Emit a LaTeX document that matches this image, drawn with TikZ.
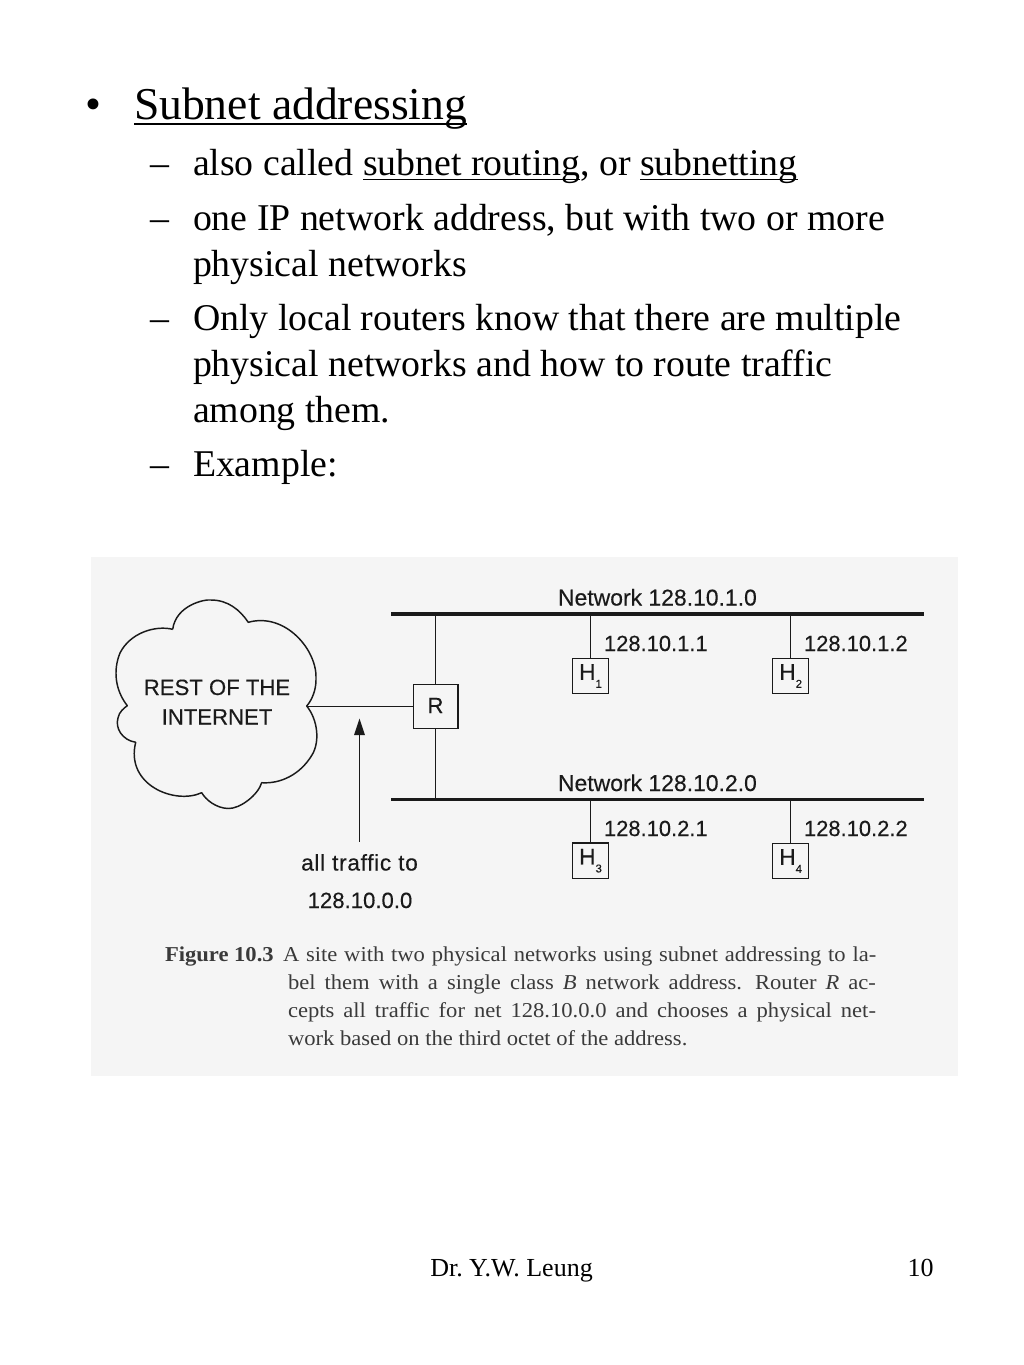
\documentclass[tikz,border=0pt]{standalone}
\usepackage{fontspec}
\setmainfont{Liberation Serif}
\newfontfamily\helv[FakeBold=0.3]{Liberation Sans}
\newfontfamily\helvs[FakeBold=0.3,LetterSpace=3]{Liberation Sans}
\newfontfamily\capfont[FakeStretch=1.065]{Liberation Serif}
\definecolor{panel}{HTML}{F5F5F5}
\definecolor{ink}{HTML}{1A1A1A}
\definecolor{capink}{HTML}{3A3A3A}
\newsavebox\ulbox
\newcommand\myul[1]{\sbox\ulbox{#1}\rlap{\rule[-0.13em]{\wd\ulbox}{0.05em}}#1}
\newcommand\fs[1]{\fontsize{#1pt}{#1pt}\selectfont}
\newcommand\hsub[1]{H\raisebox{-0.35em}{\fontsize{8.5pt}{8.5pt}\selectfont #1}}
\tikzset{
  x=0.75pt,y=-0.75pt,
  every node/.style={inner sep=0pt,outer sep=0pt},
  slideh/.style={anchor=base west,font=\fs{34.2}},
  slides/.style={anchor=base west,font=\fs{28.35}},
  foot/.style={anchor=base,font=\fs{19.5}},
  figtext/.style={anchor=base,font=\helv\fs{16.6},text=ink},
  addr/.style={anchor=base west,font=\helv\fs{16.45},text=ink},
  netlabel/.style={anchor=base west,font=\helv\fs{17.2},text=ink},
  trafficlabel/.style={anchor=base,font=\helvs\fs{17},text=ink},
  captext/.style={anchor=base west,font=\capfont\fs{15.9},text=capink},
  bus/.style={draw=ink,line width=2.3pt},
  wire/.style={draw=ink,line width=1pt},
  hostbox/.style={draw=ink,line width=1pt,minimum width=27pt,minimum height=26.5pt,font=\helv\fs{17},text=ink},
  routerbox/.style={draw=ink,line width=1pt,minimum width=33.5pt,minimum height=33pt,font=\helv\fs{16.5},text=ink},
}
\begin{document}
\frenchspacing
\begin{tikzpicture}
\useasboundingbox (0,0) rectangle (1024,1365);
\fill[white] (0,0) rectangle (1024,1365);
\fill[panel] (91,557) rectangle (958,1076);

% slide text
\node[slideh] (b1) at (85,119) {•};
\node[slideh] (t1) at (134,119) {\myul{Subnet addressing}};
\node[slides] (d1) at (150,175.5) {–};
\node[slides] (t2) at (193,175.5) {also called \myul{subnet routing}, or \myul{subnetting}};
\node[slides] (d2) at (150,230) {–};
\node[slides] (t3) at (193,230) {one IP network address, but with two or more};
\node[slides] (t3b) at (193,276) {physical networks};
\node[slides] (d3) at (150,330) {–};
\node[slides] (t4) at (193,330) {Only local routers know that there are multiple};
\node[slides] (t4b) at (193,376) {physical networks and how to route traffic};
\node[slides] (t4c) at (193,422) {among them.};
\node[slides] (d4) at (150,476) {–};
\node[slides] (t5) at (193,476) {Example:};

% cloud
\draw[wire,line width=1.1pt,line join=round]
  (172.7,629.3) .. controls (176,605) and (205,599) .. (211,600)
  .. controls (228,600) and (240,610) .. (248.3,622.3)
  .. controls (285,612) and (318,650) .. (316,680)
  .. controls (316,690) and (312,700) .. (306.7,706)
  .. controls (318,720) and (320,742) .. (312,755)
  .. controls (300,775) and (280,784) .. (261.7,782.7)
  .. controls (258,795) and (240,809) .. (228,808.5)
  .. controls (216,808) and (206,800) .. (201.7,792.7)
  .. controls (175,805) and (125,785) .. (135.7,742.3)
  .. controls (122,740) and (115,728) .. (118,718)
  .. controls (119,712) and (124,708) .. (127.3,705.7)
  .. controls (115,690) and (113,670) .. (120,653)
  .. controls (130,633) and (155,625) .. (172.7,629.3);
\coordinate (cloudport) at (306.7,706.5);
\node[figtext] (c1) at (217,695) {REST OF THE};
\node[figtext] (c2) at (217,724.5) {INTERNET};

% router and buses
\coordinate (n1l) at (391,614);
\coordinate (n1r) at (924,614);
\coordinate (n2l) at (391,799.5);
\coordinate (n2r) at (924,799.5);
\draw[bus] (n1l) -- (n1r);
\draw[bus] (n2l) -- (n2r);
\node[routerbox] (R) at (435.5,706.2) {\raisebox{1.1pt}{R}};
\coordinate (rt) at (R.north |- n1l);
\coordinate (rb) at (R.south |- n2l);
\draw[wire] (R.north) -- (rt);
\draw[wire] (R.south) -- (rb);
\draw[wire] (cloudport) -- (R.west |- cloudport);

% hosts
\node[hostbox] (H1) at (590.5,676) {\hsub{1}};
\node[hostbox] (H2) at (790.7,676) {\hsub{2}};
\node[hostbox] (H3) at (590.5,860.7) {\hsub{3}};
\node[hostbox] (H4) at (790.7,861) {\hsub{4}};
\draw[wire] (H1.north) -- (H1.north |- n1l);
\draw[wire] (H2.north) -- (H2.north |- n1l);
\draw[wire] (H3.north) -- (H3.north |- n2l);
\draw[wire] (H4.north) -- (H4.north |- n2l);

% labels
\node[netlabel] (N1) at (558,605.5) {Network 128.10.1.0};
\node[netlabel] (N2) at (558,791) {Network 128.10.2.0};
\node[addr] (a1) at (604,651) {128.10.1.1};
\node[addr] (a2) at (804,651) {128.10.1.2};
\node[addr] (a3) at (604,836) {128.10.2.1};
\node[addr] (a4) at (804,836) {128.10.2.2};

% arrow
\coordinate (arrowfoot) at (359.5,841.5);
\coordinate (arrowhead) at (359.5,718.5);
\draw[wire] (arrowfoot) -- (359.5,730);
\fill[ink] (arrowhead) -- (365,735) -- (354,735) -- cycle;
\node[trafficlabel] (tr1) at (359.5,870.5) {all traffic to};
\node[figtext] (tr2) at (360,908) {128.10.0.0};

% caption
\node[captext] (f1) at (165,961.5) {\textbf{Figure 10.3}};
\node[captext] (l1) at (283,961.5) {\makebox[445pt][s]{A site with two physical networks using subnet addressing to la-}};
\node[captext] (l2) at (288,989.5) {\makebox[441pt][s]{bel them with a single class \textit{B} network address.\hspace{3pt} Router \textit{R} ac-}};
\node[captext] (l3) at (288,1017.5) {\makebox[441pt][s]{cepts all traffic for net 128.10.0.0 and chooses a physical net-}};
\node[captext] (l4) at (288,1045.5) {work based on the third octet of the address.};

% footer
\node[foot] (ft) at (511.5,1276) {Dr. Y.W. Leung};
\node[foot] (pg) at (920.5,1276) {10};
\end{tikzpicture}
\end{document}
